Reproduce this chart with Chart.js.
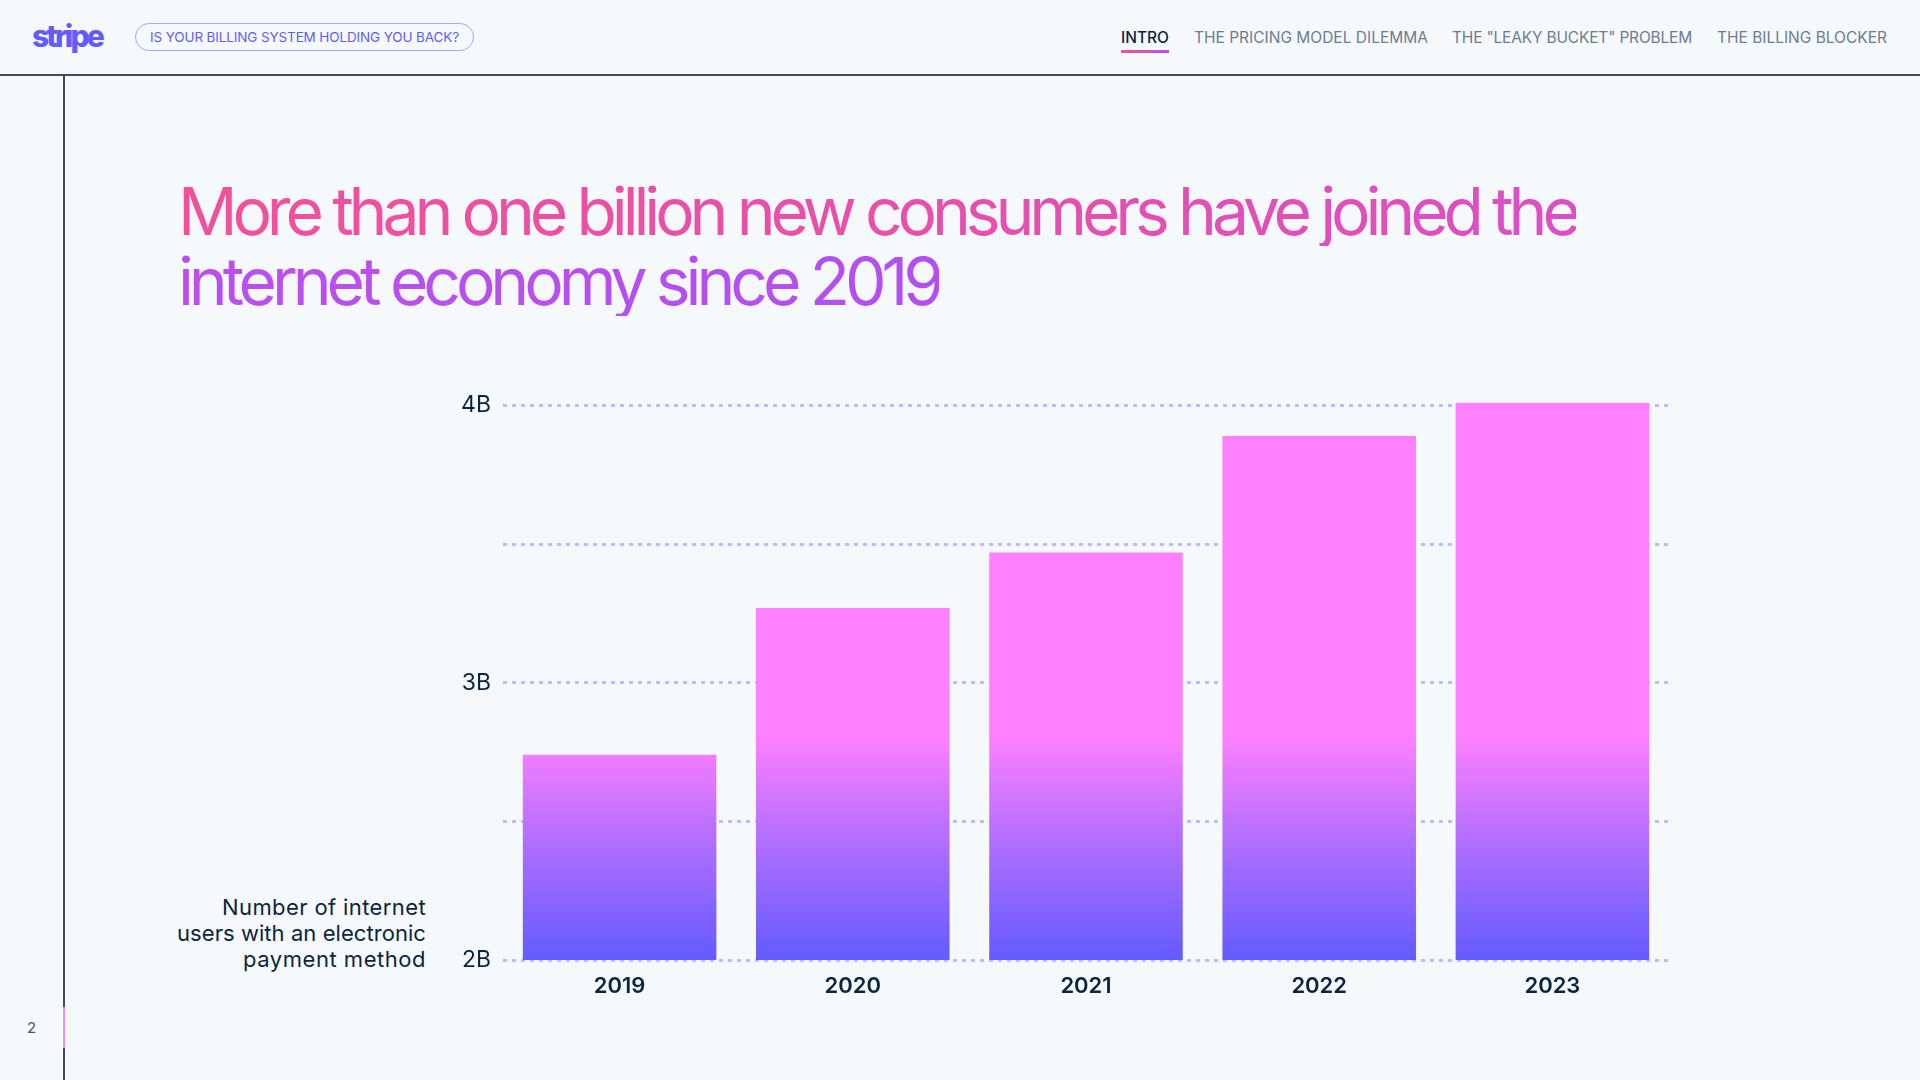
<!DOCTYPE html>
<html>
<head>
<meta charset="utf-8">
<title>Internet users with an electronic payment method</title>
<script src="https://cdn.jsdelivr.net/npm/chart.js@4.4.1/dist/chart.umd.min.js"></script>
<style>
  html, body { margin: 0; padding: 0; }
  body {
    width: 1920px; height: 1080px; position: relative; overflow: hidden;
    background: #f6f9fc; color: #0a2540;
    font-family: Inter, "Noto Sans", sans-serif;
  }
  .nowrap { white-space: nowrap; display: inline-block; }

  /* header */
  .logo { position: absolute; left: 32px; top: 16px; font-size: 30px; font-weight: 800; color: #635bff; line-height: 40px; }
  .pill {
    position: absolute; left: 135px; top: 23px; width: 337px; height: 26px;
    border: 1.5px solid #a9a4ff; border-radius: 15px;
  }
  .pill span { position: absolute; left: 14px; top: 5px; font-size: 13.5px; line-height: 17px; color: #635bff; }
  .nav { position: absolute; top: 28px; font-size: 15.5px; line-height: 20px; color: #6b7c93; }
  .nav.active { color: #0a2540; font-weight: 500; }
  .underline { position: absolute; left: 1121px; top: 50px; width: 48px; height: 3px; background: linear-gradient(90deg, #f2509a, #b44ff0); }
  .hline { position: absolute; left: 0; top: 74px; width: 1920px; height: 1.5px; background: #424a5c; }
  .vline { position: absolute; left: 63px; top: 75px; width: 1.5px; height: 1005px; background: #424a5c; }
  .vmark { position: absolute; left: 63px; top: 1007px; width: 1.5px; height: 41px; background: #f58df0; }
  .page { position: absolute; left: 27px; top: 1018px; font-size: 15px; line-height: 20px; color: #425466; }

  /* title */
  .title { position: absolute; left: 178px; top: 176px; font-size: 66px; line-height: 70px; font-weight: 400; }
  .title span {
    -webkit-background-clip: text; background-clip: text;
    -webkit-text-fill-color: transparent; color: transparent;
  }
  #t1 { background-image: linear-gradient(90deg, #f2509a 0%, #e34fb3 70%, #db4fc6 100%); }
  #t2 { background-image: linear-gradient(90deg, #bc4fee 0%, #b34ff2 100%); }

  .note {
    position: absolute; right: 1494px; top: 894px; text-align: right;
    font-size: 22px; line-height: 26px; color: #0a2540; white-space: nowrap;
  }
  .chart-box { position: absolute; left: 440px; top: 370px; width: 1240px; height: 650px; }
</style>
</head>
<body>

<div class="logo"><span id="logo" class="nowrap">stripe</span></div>
<div class="pill"><span id="pill" class="nowrap">IS YOUR BILLING SYSTEM HOLDING YOU BACK?</span></div>

<div class="nav active" style="left:1121px"><span id="n1" class="nowrap">INTRO</span></div>
<div class="nav" style="left:1194px"><span id="n2" class="nowrap">THE PRICING MODEL DILEMMA</span></div>
<div class="nav" style="left:1452px"><span id="n3" class="nowrap">THE "LEAKY BUCKET" PROBLEM</span></div>
<div class="nav" style="left:1717px"><span id="n4" class="nowrap">THE BILLING BLOCKER</span></div>
<div class="underline"></div>

<div class="hline"></div>
<div class="vline"></div>
<div class="vmark"></div>
<div class="page">2</div>

<div class="title">
  <span id="t1" class="nowrap">More than one billion new consumers have joined the</span><br>
  <span id="t2" class="nowrap">internet economy since 2019</span>
</div>

<div class="note"><span id="l1" class="nowrap">Number of internet</span><br><span id="l2" class="nowrap">users with an electronic</span><br><span id="l3" class="nowrap">payment method</span></div>

<div class="chart-box"><canvas id="usersChart"></canvas></div>

<script>
// data
const years = ["2019", "2020", "2021", "2022", "2023"];
const usersBillions = [2.74, 3.27, 3.47, 3.89, 4.01];
const gridValues = [2, 2.5, 3, 3.5, 4];
const tickLabels = { 2: "2B", 3: "3B", 4: "4B" };

// squeeze or stretch a text run to the width it has in the reference
function fitWidth(id, target) {
  const el = document.getElementById(id);
  el.style.letterSpacing = "0px";
  const w = el.getBoundingClientRect().width;
  el.style.letterSpacing = ((target - w) / el.textContent.length).toFixed(2) + "px";
}

fitWidth("logo", 70);
fitWidth("pill", 309);
fitWidth("n1", 48);
fitWidth("n2", 234);
fitWidth("n3", 240);
fitWidth("n4", 170);
fitWidth("t1", 1398);
fitWidth("t2", 761);
fitWidth("l1", 204);
fitWidth("l2", 249);
fitWidth("l3", 183);

const chartCanvas = document.getElementById("usersChart");

new Chart(chartCanvas, {
  type: "bar",
  data: {
    labels: years,
    datasets: [
      {
        label: "Internet users with an electronic payment method",
        data: usersBillions,
        backgroundColor: (ctx) => {
          const area = ctx.chart.chartArea;
          if (!area) return "#ff80ff";
          const g = ctx.chart.ctx.createLinearGradient(0, area.bottom, 0, area.bottom - 225);
          g.addColorStop(0, "#635bff");
          g.addColorStop(0.5, "#ad6dff");
          g.addColorStop(1, "#ff80ff");
          return g;
        },
        borderWidth: 0,
        categoryPercentage: 1,
        barPercentage: 0.83
      }
    ]
  },
  options: {
    responsive: true,
    maintainAspectRatio: false,
    animation: false,
    layout: { padding: { top: 30, right: 11, left: 0, bottom: 0 } },
    plugins: {
      legend: { display: false },
      tooltip: { enabled: false }
    },
    scales: {
      x: {
        grid: { display: false, drawTicks: false },
        border: { display: false },
        ticks: {
          color: "#0a2540",
          padding: 13,
          font: { family: "Inter", size: 22, weight: "600" }
        },
        afterFit: (scale) => { scale.height = 60; }
      },
      y: {
        min: 2,
        max: 4.02,
        afterBuildTicks: (scale) => {
          scale.ticks = gridValues.map((v) => ({ value: v }));
        },
        grid: {
          color: "#bfbbfb",
          lineWidth: 3,
          drawTicks: false
        },
        border: { display: false, dash: [4, 5] },
        ticks: {
          color: "#0a2540",
          padding: 12,
          font: { family: "Inter", size: 23 },
          callback: (value) => tickLabels[value] || ""
        },
        afterFit: (scale) => { scale.width = 63; }
      }
    }
  }
});
</script>
</body>
</html>
